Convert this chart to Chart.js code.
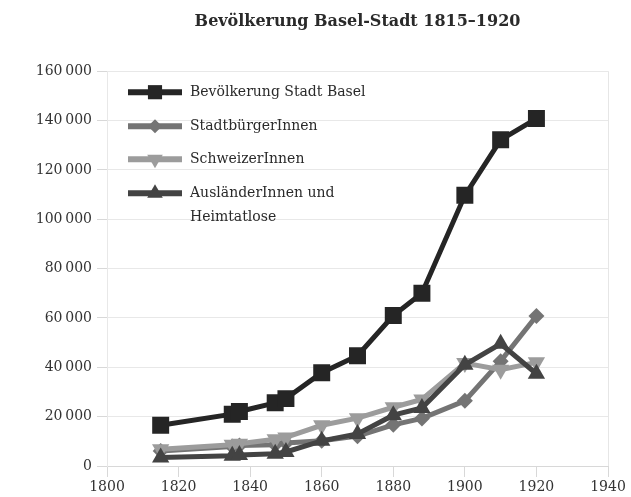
<!DOCTYPE html>
<html lang="de">
<head>
<meta charset="UTF-8">
<title>Bevölkerung Basel-Stadt 1815–1920</title>
<script src="https://cdn.jsdelivr.net/npm/chart.js"></script>
<style>
  html, body { margin: 0; padding: 0; background: #fff; }
  #wrap { width: 631px; height: 497px; }
</style>
</head>
<body>
<div id="wrap"><canvas id="chart"></canvas></div>
<script>
// census years and values
const years = [1815, 1835, 1837, 1847, 1850, 1860, 1870, 1880, 1888, 1900, 1910, 1920];
const bevoelkerung = [16500, 21000, 22100, 25600, 27300, 37800, 44700, 61000, 70000, 109700, 132200, 140800];
const stadtbuerger = [6100, 7900, 8300, 8600, 9300, 10200, 12100, 16700, 19300, 26400, 42500, 60800];
const schweizer = [6800, 8600, 9000, 10800, 11600, 16500, 19400, 23800, 27000, 41700, 39000, 42000];
const auslaender = [3400, 4200, 4500, 5000, 5700, 10200, 13000, 20600, 23500, 41000, 49500, 37400];
const seriesLabels = ["Bevölkerung Stadt Basel", "StadtbürgerInnen", "SchweizerInnen", ["AusländerInnen und", "Heimtatlose"]];
const yTicks = [0, 20000, 40000, 60000, 80000, 100000, 120000, 140000, 160000];

const serif = "'DejaVu Serif', 'Liberation Serif', serif";

function pts(vals) {
    return vals.map((v, i) => ({ x: years[i], y: v }));
}

const styles = [
    { color: "#252525", pointStyle: "rect", radius: 12, rotation: 0 },
    { color: "#747474", pointStyle: "rectRot", radius: 8, rotation: 0 },
    { color: "#9c9c9c", pointStyle: "triangle", radius: 10, rotation: 180 },
    { color: "#434343", pointStyle: "triangle", radius: 10, rotation: 0 }
];
const seriesData = [bevoelkerung, stadtbuerger, schweizer, auslaender];

const datasets = seriesData.map((vals, i) => ({
    label: Array.isArray(seriesLabels[i]) ? seriesLabels[i].join(" ") : seriesLabels[i],
    data: pts(vals),
    borderColor: styles[i].color,
    backgroundColor: styles[i].color,
    borderWidth: 5,
    pointStyle: styles[i].pointStyle,
    pointRadius: styles[i].radius,
    pointRotation: styles[i].rotation,
    pointBorderWidth: 0,
    pointHoverRadius: styles[i].radius,
    tension: 0,
    order: 4 - i
}));

// legend drawn inside the plot area, top left
const insideLegend = {
    id: "insideLegend",
    afterDraw(chart) {
        const ctx = chart.ctx;
        const area = chart.chartArea;
        const x0 = area.left + 21, x1 = area.left + 75, tx = area.left + 83;
        const rows = [area.top + 21, area.top + 55, area.top + 88, area.top + 122];
        ctx.save();
        ctx.font = "14px " + serif;
        ctx.textBaseline = "middle";
        seriesLabels.forEach((lab, i) => {
            const y = rows[i];
            const st = styles[i];
            ctx.strokeStyle = st.color;
            ctx.lineWidth = 6;
            ctx.beginPath();
            ctx.moveTo(x0, y);
            ctx.lineTo(x1, y);
            ctx.stroke();
            ctx.fillStyle = st.color;
            Chart.helpers.drawPoint(ctx, {
                pointStyle: st.pointStyle,
                radius: st.pointStyle === "rect" ? 10 : st.radius - 1,
                rotation: st.rotation,
                borderWidth: 0
            }, (x0 + x1) / 2, y);
            ctx.fillStyle = "#2a2a2a";
            const lines = Array.isArray(lab) ? lab : [lab];
            lines.forEach((t, k) => ctx.fillText(t, tx, y + k * 24));
        });
        ctx.restore();
    }
};

new Chart(document.getElementById("chart"), {
    type: "line",
    data: { datasets: datasets },
    options: {
        responsive: true,
        maintainAspectRatio: false,
        animation: false,
        layout: { padding: { top: 12, right: 23, left: 0, bottom: 0 } },
        plugins: {
            legend: { display: false },
            tooltip: { enabled: false },
            title: {
                display: true,
                fullSize: false,
                text: "Bevölkerung Basel-Stadt 1815–1920",
                color: "#2a2a2a",
                font: { family: serif, size: 16, weight: "bold" },
                padding: { top: 0, bottom: 40 }
            }
        },
        scales: {
            x: {
                type: "linear",
                min: 1800,
                max: 1940,
                afterFit(scale) { scale.height = 31; },
                ticks: {
                    stepSize: 20,
                    color: "#333",
                    font: { family: serif, size: 14 },
                    padding: 2,
                    maxRotation: 0,
                    callback: v => String(v)
                },
                grid: {
                    color: c => (c.tick && c.tick.value === 1940 ? "#e6e6e6" : "rgba(0,0,0,0)"),
                    tickColor: "#d8d8d8",
                    tickLength: 11
                },
                border: { display: true, color: "#d8d8d8" }
            },
            y: {
                min: 0,
                max: 160000,
                afterFit(scale) { scale.width = 107; },
                afterBuildTicks(scale) { scale.ticks = yTicks.map(v => ({ value: v })); },
                ticks: {
                    color: "#333",
                    font: { family: serif, size: 14 },
                    padding: 5,
                    callback: v => String(v).replace(/\B(?=(\d{3})+(?!\d))/g, "\u2009")
                },
                grid: {
                    color: "#e8e8e8",
                    tickColor: "#d8d8d8",
                    tickLength: 10
                },
                border: { display: true, color: "#e8e8e8" }
            }
        }
    },
    plugins: [insideLegend]
});
</script>
</body>
</html>
